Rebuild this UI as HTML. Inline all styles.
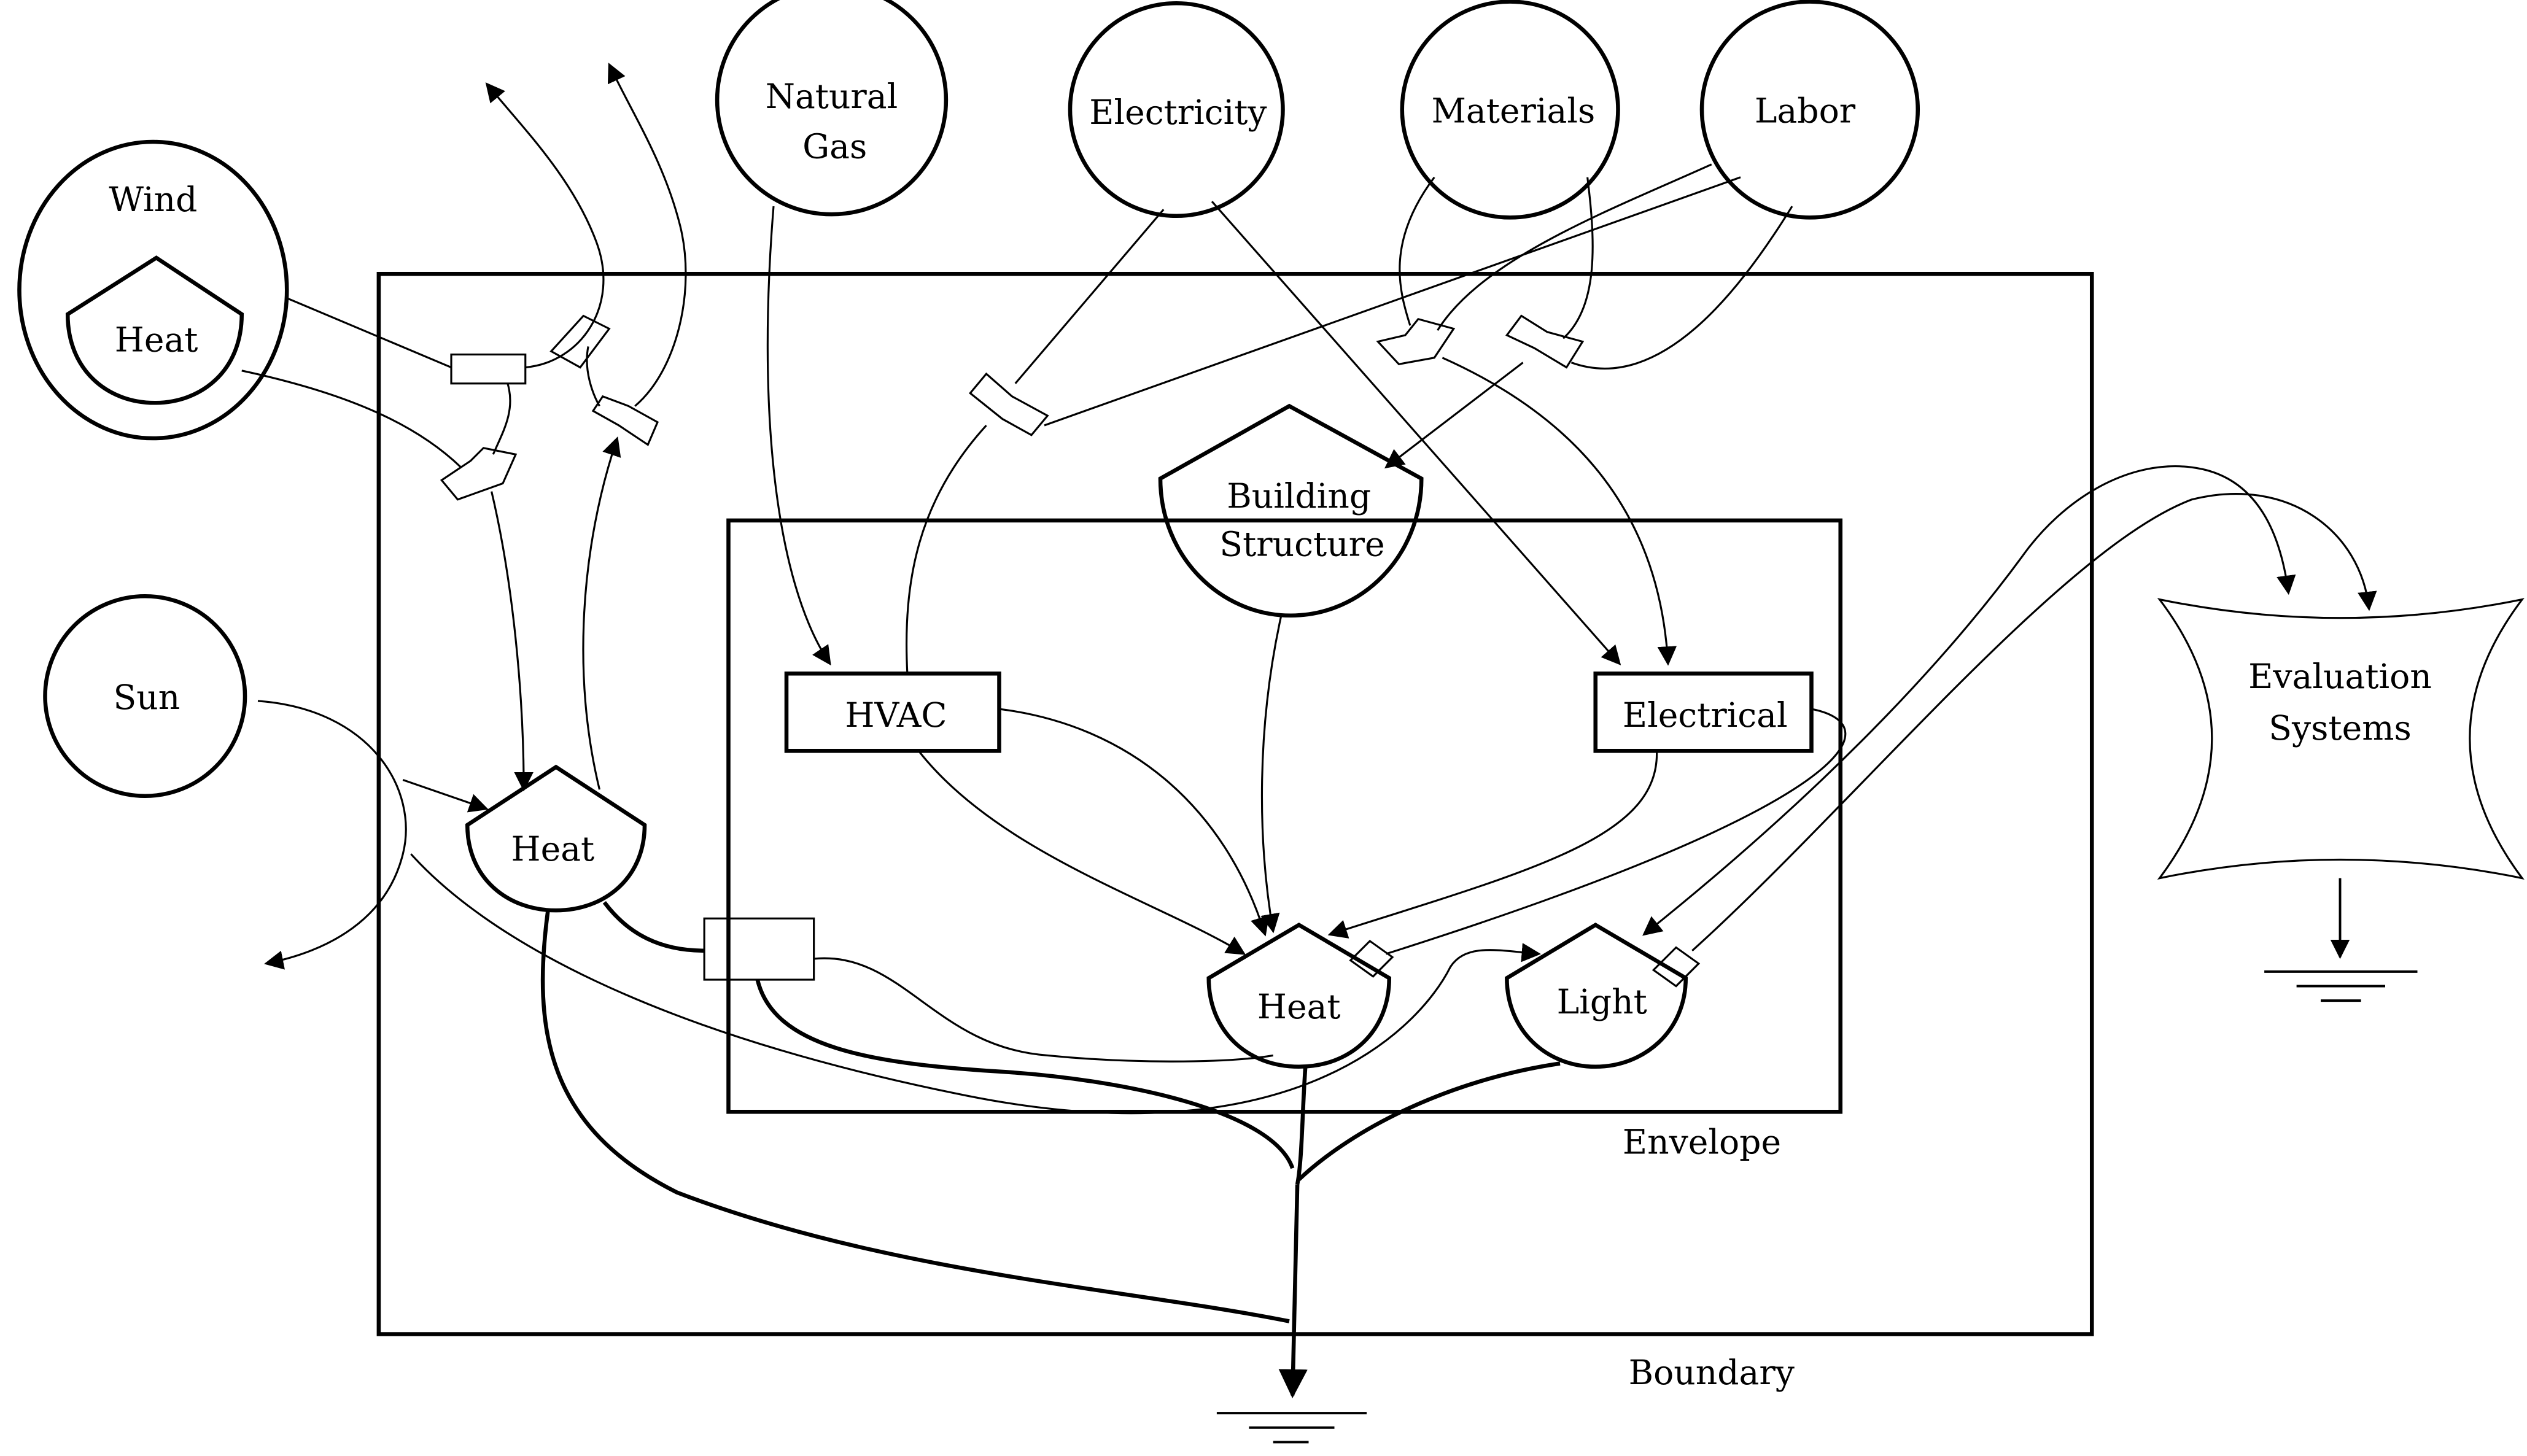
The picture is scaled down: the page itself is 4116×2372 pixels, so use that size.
<!DOCTYPE html>
<html><head><meta charset="utf-8"><style>html,body{margin:0;padding:0;background:#fff}svg{display:block}text{font-family:"DejaVu Serif","Liberation Serif",serif;font-size:21px;fill:#000;text-anchor:middle}</style></head>
<body>
<svg width="4116" height="2372" viewBox="0 0 1568 903.6" xmlns="http://www.w3.org/2000/svg">
<defs><marker id="a" viewBox="0 0 10 10" refX="9" refY="5" markerWidth="12" markerHeight="12" orient="auto-start-reverse" markerUnits="userSpaceOnUse"><path d="M0,0 L10,5 L0,10 z" fill="#000"/></marker>
<marker id="b" viewBox="0 0 10 10" refX="9" refY="5" markerWidth="18" markerHeight="18" orient="auto" markerUnits="userSpaceOnUse"><path d="M0,0 L10,5 L0,10 z" fill="#000"/></marker></defs>
<rect width="1568" height="903.6" fill="#fff"/>
<g fill="none" stroke="#000">
<rect x="235" y="170" width="1063" height="658" stroke-width="2.5"/>
<rect x="452" y="323" width="690" height="367" stroke-width="2.5"/>
<ellipse cx="95" cy="180" rx="83" ry="92" stroke-width="2.5"/>
<circle cx="516" cy="62" r="71" stroke-width="2.5"/>
<circle cx="730" cy="68" r="66" stroke-width="2.5"/>
<circle cx="937" cy="68" r="67" stroke-width="2.5"/>
<circle cx="1123" cy="68" r="67" stroke-width="2.5"/>
<circle cx="90" cy="432" r="62" stroke-width="2.5"/>
<path d="M42,195 L97,160 L150,195 C150,230 125,250 96,250 C67,250 42,230 42,195 Z" stroke-width="2.5"/>
<path d="M720,297 L800,252 L882,297 C882,345 845,382 801,382 C757,382 720,345 720,297 Z" stroke-width="2.5"/>
<path d="M290,512 L345,476 L400,512 C400,545 375,565 345,565 C315,565 290,545 290,512 Z" stroke-width="2.5"/>
<path d="M750,607 L806,574 L862,607 C862,640 838,662 806,662 C774,662 750,640 750,607 Z" stroke-width="2.5"/>
<path d="M935,607 L990,574 L1046,607 C1046,640 1020,662 990,662 C960,662 935,640 935,607 Z" stroke-width="2.5"/>
<path d="M1340,372 Q1452,395 1565,372 Q1500,458 1565,545 Q1452,522 1340,545 Q1405,458 1340,372 Z" stroke-width="1.2"/>
<rect x="488" y="418" width="132" height="48" stroke-width="2.5"/>
<rect x="990" y="418" width="134" height="48" stroke-width="2.5"/>
<rect x="437" y="570" width="68" height="38" stroke-width="1.2"/>
<rect x="280" y="220" width="46" height="18" stroke-width="1.2"/>
<g stroke-width="1.2">
<path d="M342,218 L362,196 L378,204 L360,228 Z"/>
<path d="M368,255 L374,246 L390,252 L408,262 L402,276 L384,264 Z"/>
<path d="M274,298 L292,286 L300,278 L320,282 L312,300 L284,310 Z"/>
<path d="M602,244 L612,232 L628,246 L650,258 L640,270 L622,260 Z"/>
<path d="M855,212 L872,208 L880,198 L902,204 L890,222 L868,226 Z"/>
<path d="M935,208 L944,196 L960,206 L982,212 L972,228 L952,216 Z"/>
<path d="M838,596 L850,584 L864,594 L852,606 Z"/>
<path d="M1026,602 L1040,588 L1054,598 L1040,612 Z"/>
</g>
<g stroke-width="1.2">
<path d="M178,185 L280,228"/>
<path d="M326,228 C360,225 385,190 370,150 C355,110 325,80 302,52" marker-end="url(#a)"/>
<path d="M394,252 C420,230 432,180 422,140 C412,100 392,70 378,40" marker-end="url(#a)"/>
<path d="M365,215 C362,230 368,245 372,252"/>
<path d="M150,230 C220,245 260,265 286,290"/>
<path d="M315,238 C320,255 312,268 306,282"/>
<path d="M305,305 C318,360 325,430 325,490" marker-end="url(#a)"/>
<path d="M372,490 C355,420 360,340 383,272" marker-end="url(#a)"/>
<path d="M160,435 C230,440 260,490 250,530 C240,570 205,590 165,598" marker-end="url(#a)"/>
<path d="M250,484 L302,502" marker-end="url(#a)"/>
<path d="M255,530 C300,580 400,640 600,680 C800,720 880,640 900,600 C910,585 930,590 955,592" marker-end="url(#a)"/>
<path d="M480,128 C470,250 480,360 515,412" marker-end="url(#a)"/>
<path d="M722,130 L630,238"/>
<path d="M612,264 C570,310 560,360 563,418"/>
<path d="M752,125 L1005,412" marker-end="url(#a)"/>
<path d="M1080,110 L648,264"/>
<path d="M1112,128 C1080,180 1030,245 975,225"/>
<path d="M1062,102 C1000,130 920,160 892,205"/>
<path d="M890,110 C860,150 868,180 875,202"/>
<path d="M985,110 C990,150 992,190 970,210"/>
<path d="M945,225 L860,290" marker-end="url(#a)"/>
<path d="M895,222 C980,260 1030,320 1035,412" marker-end="url(#a)"/>
<path d="M620,440 C700,450 760,500 785,580" marker-end="url(#a)"/>
<path d="M570,466 C620,530 720,560 772,592" marker-end="url(#a)"/>
<path d="M795,382 C780,450 780,520 790,578" marker-end="url(#a)"/>
<path d="M1028,466 C1030,520 950,540 825,580" marker-end="url(#a)"/>
<path d="M1124,440 C1175,450 1150,500 860,592"/>
<path d="M1050,590 C1150,500 1280,340 1360,310 C1420,295 1465,330 1470,378" marker-end="url(#a)"/>
<path d="M1255,345 C1280,310 1320,285 1360,290 C1400,295 1415,330 1420,368" marker-end="url(#a)"/>
<path d="M1255,345 C1200,420 1120,500 1020,580" marker-end="url(#a)"/>
<path d="M505,595 C560,590 580,650 650,655 C700,660 760,660 790,655"/>
</g>
<g stroke-width="2.5">
<path d="M340,565 C330,640 340,700 420,740 C550,790 700,800 800,820"/>
<path d="M375,560 C390,580 410,590 437,590"/>
<path d="M470,608 C480,650 540,660 620,665 C700,670 790,690 802,725"/>
<path d="M810,662 C808,690 808,720 805,735"/>
<path d="M968,660 C900,670 840,700 806,732"/>
<path d="M805,735 L802,866" marker-end="url(#b)"/>
</g>
<g stroke-width="1.5">
<path d="M1452,545 L1452,594" marker-end="url(#a)"/>
<path d="M1405,603 L1500,603 M1425,612 L1480,612 M1440,621 L1465,621"/>
<path d="M755,877 L848,877 M775,886 L828,886 M790,895 L812,895"/>
</g>
</g>
<text x="95" y="131">Wind</text>
<text x="97" y="218">Heat</text>
<text x="516" y="67">Natural</text>
<text x="518" y="98">Gas</text>
<text x="731" y="77">Electricity</text>
<text x="939" y="76">Materials</text>
<text x="1120" y="76">Labor</text>
<text x="91" y="440">Sun</text>
<text x="806" y="315">Building</text>
<text x="808" y="345">Structure</text>
<text x="556" y="451">HVAC</text>
<text x="1058" y="451">Electrical</text>
<text x="343" y="534">Heat</text>
<text x="806" y="632">Heat</text>
<text x="994" y="629">Light</text>
<text x="1452" y="427">Evaluation</text>
<text x="1452" y="459">Systems</text>
<text x="1056" y="716">Envelope</text>
<text x="1062" y="859">Boundary</text>
</svg>
</body></html>
